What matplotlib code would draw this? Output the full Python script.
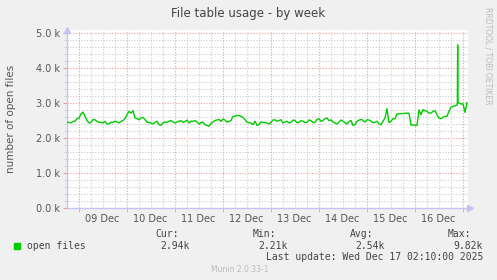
import datetime
import matplotlib
matplotlib.use("Agg")
import matplotlib.pyplot as plt
import matplotlib.dates as mdates
from matplotlib.ticker import FuncFormatter, MultipleLocator

# munin "by week" graph: one value per hour
last_update = datetime.datetime(2025, 12, 17, 2, 10)
window_hours = 200
step_hours = 1
open_files = [
    2450, 2448, 2430, 2476, 2480, 2552, 2570, 2686, 2740, 2619,
    2500, 2429, 2450, 2524, 2520, 2476, 2450, 2448, 2430, 2476,
    2400, 2400, 2450, 2448, 2480, 2457, 2430, 2476, 2500, 2552,
    2670, 2762, 2710, 2781, 2570, 2552, 2520, 2571, 2590, 2524,
    2450, 2438, 2430, 2400, 2450, 2476, 2380, 2362, 2430, 2457,
    2450, 2476, 2500, 2457, 2430, 2457, 2480, 2495, 2450, 2476,
    2510, 2429, 2480, 2476, 2500, 2457, 2400, 2438, 2450, 2381,
    2360, 2333, 2420, 2457, 2500, 2514, 2530, 2476, 2540, 2514,
    2450, 2476, 2500, 2619, 2620, 2648, 2640, 2619, 2590, 2524,
    2450, 2438, 2430, 2381, 2480, 2362, 2380, 2457, 2450, 2438,
    2430, 2400, 2450, 2514, 2520, 2476, 2500, 2524, 2430, 2457,
    2480, 2429, 2450, 2514, 2500, 2438, 2450, 2495, 2480, 2438,
    2450, 2514, 2500, 2438, 2450, 2533, 2550, 2476, 2500, 2552,
    2570, 2495, 2520, 2457, 2430, 2400, 2450, 2514, 2480, 2438,
    2400, 2476, 2500, 2362, 2380, 2476, 2510, 2533, 2500, 2457,
    2520, 2514, 2480, 2438, 2450, 2476, 2400, 2381, 2480, 2571,
    2840, 2438, 2480, 2552, 2550, 2686, 2690, 2695, 2700, 2705,
    2710, 2705, 2370, 2381, 2360, 2362, 2800, 2667, 2810, 2781,
    2760, 2714, 2710, 2762, 2780, 2667, 2570, 2552, 2590, 2619,
    2620, 2762, 2880, 2905, 2920, 2940, 3000, 2970, 2980, 2730,
    3010,
]
# short spike on the last day (30 min samples)
spike_times = [datetime.datetime(2025, 12, 16, 21, 20),
               datetime.datetime(2025, 12, 16, 21, 30),
               datetime.datetime(2025, 12, 16, 21, 40)]
spike_values = [2950, 4660, 3000]

legend_label = "open files"
stats_headers = ["Cur:", "Min:", "Avg:", "Max:"]
stats_values = ["2.94k", "2.21k", "2.54k", "9.82k"]

start = last_update - datetime.timedelta(hours=window_hours)
times = [start + datetime.timedelta(hours=step_hours * i) for i in range(len(open_files))]
pairs = sorted(list(zip(times, open_files)) + list(zip(spike_times, spike_values)))
xs = [p[0] for p in pairs]
ys = [p[1] for p in pairs]

W, H = 497, 280
fig = plt.figure(figsize=(W / 100, H / 100), dpi=100, facecolor="#F0F0F0")
ax = fig.add_axes([67 / W, 72 / H, 401 / W, 178 / H])
ax.set_facecolor("white")
ax.set_xlim(start, last_update + datetime.timedelta(minutes=30))
ax.set_ylim(0, 5000 * 178 / 175)

red = "#F09C9C"
grey = "#CCCCCC"
dots = (0, (1, 1.5))

# grid
for v in range(200, 5001, 200):
    ax.axhline(v, color=red if v % 1000 == 0 else grey, lw=0.8, ls=dots, zorder=1)
t = datetime.datetime(2025, 12, 8, 18, 0)
while t < last_update:
    if t > start:
        ax.axvline(t, color=red if t.hour == 0 else grey, lw=0.8, ls=dots, zorder=1)
    t += datetime.timedelta(hours=6)

ax.plot(xs, ys, color="#00CC00", lw=1.0, zorder=3)

# axes
for s in ["top", "right"]:
    ax.spines[s].set_visible(False)
for s in ["left", "bottom"]:
    ax.spines[s].set_color("#C4C4F0")
    ax.spines[s].set_linewidth(1.0)
ax.plot([0], [1.0], marker="^", ms=4, color="#C4C4F0", transform=ax.transAxes, clip_on=False)
ax.plot([1.004], [0], marker=">", ms=4, color="#C4C4F0", transform=ax.transAxes, clip_on=False)

ax.yaxis.set_major_locator(MultipleLocator(1000))
ax.yaxis.set_minor_locator(MultipleLocator(200))
ax.yaxis.set_major_formatter(FuncFormatter(lambda v, p: "%.1f k" % (v / 1000)))
ax.tick_params(axis="y", which="major", length=3, color=red, labelsize=7, labelcolor="#555555", pad=2)
ax.tick_params(axis="y", which="minor", length=2, color=grey)

ax.xaxis.set_major_locator(mdates.HourLocator(byhour=[12]))
ax.xaxis.set_major_formatter(mdates.DateFormatter("%d Dec"))
ax.xaxis.set_minor_locator(mdates.HourLocator(byhour=[0]))
ax.tick_params(axis="x", which="major", length=0, labelsize=7, labelcolor="#555555", pad=4)
ax.tick_params(axis="x", which="minor", length=3, color=red)

ax.set_ylabel("number of open files", fontsize=7.5, color="#555555", labelpad=14)

fig.text(248 / W, 1 - 13 / H, "File table usage - by week", ha="center", va="center",
         fontsize=8.5, color="#444444")
fig.text(488 / W, 1 - 56 / H, "RRDTOOL / TOBI OETIKER", rotation=270, ha="center", va="center",
         fontsize=5.5, color="#BBBBBB")

# legend block
mono = "DejaVu Sans Mono"
fig.patches.append(plt.Rectangle((14 / W, 1 - 249 / H), 6 / W, 6 / H, color="#00CC00",
                                 transform=fig.transFigure, figure=fig))
fig.text(27 / W, 1 - 246 / H, legend_label, ha="left", va="center", fontsize=7, family=mono, color="#444444")
head_x = [155, 253, 350, 448]
val_right = [190, 288, 385, 483]
for hx, vr, hd, vv in zip(head_x, val_right, stats_headers, stats_values):
    fig.text(hx / W, 1 - 234 / H, hd, ha="left", va="center", fontsize=7, family=mono, color="#444444")
    fig.text(vr / W, 1 - 246 / H, vv, ha="right", va="center", fontsize=7, family=mono, color="#444444")
fig.text(483 / W, 1 - 257.5 / H, "Last update: " + last_update.strftime("%a %b %d %H:%M:%S %Y"),
         ha="right", va="center", fontsize=7, family=mono, color="#444444")
fig.text(240 / W, 1 - 269 / H, "Munin 2.0.33-1", ha="center", va="center", fontsize=5.5, color="#BBBBBB")

fig.savefig("out.png", dpi=100, facecolor=fig.get_facecolor())
